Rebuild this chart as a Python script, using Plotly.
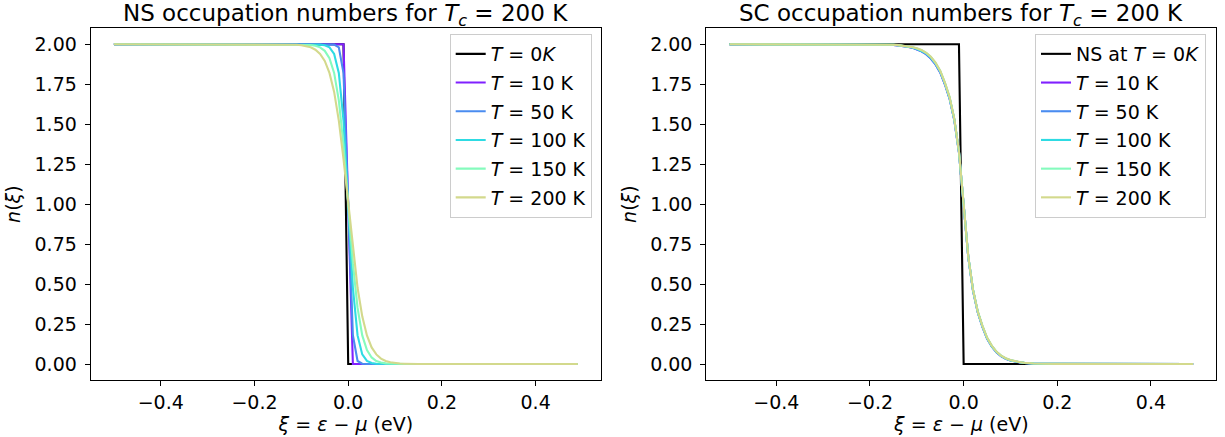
import plotly.graph_objects as go

# ---------------- data ----------------
xi = [-0.50, -0.30, -0.20, -0.15, -0.14, -0.13, -0.12, -0.11, -0.10, -0.09,
      -0.08, -0.07, -0.06, -0.05, -0.04, -0.03, -0.02, -0.01, 0.00, 0.01,
      0.02, 0.03, 0.04, 0.05, 0.06, 0.07, 0.08, 0.09, 0.10, 0.11,
      0.12, 0.13, 0.14, 0.15, 0.20, 0.30, 0.49]

ns_T0 = [2.0, 2.0, 2.0, 2.0, 2.0, 2.0, 2.0, 2.0, 2.0, 2.0,
         2.0, 2.0, 2.0, 2.0, 2.0, 2.0, 2.0, 2.0, 0.0, 0.0,
         0.0, 0.0, 0.0, 0.0, 0.0, 0.0, 0.0, 0.0, 0.0, 0.0,
         0.0, 0.0, 0.0, 0.0, 0.0, 0.0, 0.0]
ns_10 = [2.0, 2.0, 2.0, 2.0, 2.0, 2.0, 2.0, 2.0, 2.0, 2.0,
         2.0, 2.0, 2.0, 2.0, 2.0, 2.0, 2.0, 2.0, 1.0, 0.0,
         0.0, 0.0, 0.0, 0.0, 0.0, 0.0, 0.0, 0.0, 0.0, 0.0,
         0.0, 0.0, 0.0, 0.0, 0.0, 0.0, 0.0]
ns_50 = [2.0, 2.0, 2.0, 2.0, 2.0, 2.0, 2.0, 2.0, 2.0, 2.0,
         2.0, 2.0, 2.0, 2.0, 2.0, 1.998, 1.981, 1.82, 1.0, 0.18,
         0.019, 0.002, 0.0, 0.0, 0.0, 0.0, 0.0, 0.0, 0.0, 0.0,
         0.0, 0.0, 0.0, 0.0, 0.0, 0.0, 0.0]
ns_100 = [2.0, 2.0, 2.0, 2.0, 2.0, 2.0, 2.0, 2.0, 2.0, 2.0,
          2.0, 1.999, 1.998, 1.994, 1.981, 1.940, 1.821, 1.523, 1.0, 0.477,
          0.179, 0.060, 0.019, 0.006, 0.002, 0.001, 0.0, 0.0, 0.0, 0.0,
          0.0, 0.0, 0.0, 0.0, 0.0, 0.0, 0.0]
ns_150 = [2.0, 2.0, 2.0, 2.0, 2.0, 2.0, 2.0, 2.0, 1.999, 1.998,
          1.996, 1.991, 1.981, 1.959, 1.913, 1.821, 1.649, 1.369, 1.0, 0.631,
          0.351, 0.179, 0.087, 0.041, 0.019, 0.009, 0.004, 0.002, 0.001, 0.0,
          0.0, 0.0, 0.0, 0.0, 0.0, 0.0, 0.0]
ns_200 = [2.0, 2.0, 2.0, 2.0, 1.999, 1.999, 1.998, 1.997, 1.994, 1.989,
          1.981, 1.966, 1.940, 1.896, 1.821, 1.702, 1.523, 1.282, 1.0, 0.718,
          0.477, 0.298, 0.179, 0.104, 0.060, 0.034, 0.019, 0.011, 0.006, 0.003,
          0.002, 0.001, 0.001, 0.0, 0.0, 0.0, 0.0]

sc_10 = [2.0, 2.0, 1.999, 1.996, 1.993, 1.990, 1.985, 1.979, 1.969, 1.956,
         1.938, 1.911, 1.874, 1.824, 1.750, 1.660, 1.527, 1.324, 0.996, 0.665,
         0.460, 0.325, 0.234, 0.159, 0.110, 0.074, 0.049, 0.032, 0.022, 0.015,
         0.010, 0.006, 0.004, 0.002, 0.001, 0.0, 0.0]
sc_50 = [2.0, 2.0, 1.999, 1.996, 1.993, 1.990, 1.985, 1.979, 1.969, 1.956,
         1.938, 1.911, 1.874, 1.824, 1.750, 1.660, 1.527, 1.324, 0.996, 0.665,
         0.460, 0.325, 0.234, 0.159, 0.110, 0.074, 0.049, 0.032, 0.022, 0.015,
         0.010, 0.006, 0.004, 0.002, 0.001, 0.0, 0.0]
sc_100 = [2.0, 2.0, 1.999, 1.997, 1.994, 1.991, 1.987, 1.981, 1.972, 1.960,
          1.943, 1.917, 1.880, 1.830, 1.756, 1.665, 1.531, 1.327, 0.998, 0.668,
          0.463, 0.328, 0.237, 0.162, 0.112, 0.076, 0.051, 0.034, 0.023, 0.016,
          0.011, 0.007, 0.004, 0.003, 0.001, 0.0, 0.0]
sc_150 = [2.0, 2.0, 1.999, 1.997, 1.995, 1.992, 1.988, 1.982, 1.974, 1.963,
          1.946, 1.920, 1.883, 1.833, 1.758, 1.668, 1.533, 1.328, 0.999, 0.669,
          0.464, 0.329, 0.239, 0.164, 0.114, 0.077, 0.052, 0.035, 0.024, 0.016,
          0.011, 0.007, 0.005, 0.003, 0.001, 0.0, 0.0]
sc_200 = [2.0, 2.0, 1.999, 1.997, 1.995, 1.992, 1.988, 1.983, 1.975, 1.964,
          1.947, 1.922, 1.885, 1.835, 1.760, 1.670, 1.535, 1.330, 1.0, 0.670,
          0.465, 0.330, 0.240, 0.165, 0.115, 0.078, 0.053, 0.036, 0.025, 0.017,
          0.012, 0.008, 0.005, 0.003, 0.001, 0.0, 0.0]

temps = ["10", "50", "100", "150", "200"]
colors = ["#8020ff", "#4a8cf0", "#2edbe3", "#85fbbd", "#d3d98c"]
ns_series = [ns_10, ns_50, ns_100, ns_150, ns_200]
sc_series = [sc_10, sc_50, sc_100, sc_150, sc_200]

x_ticks = [-0.4, -0.2, 0.0, 0.2, 0.4]
x_ticktext = ["\u22120.4", "\u22120.2", "0.0", "0.2", "0.4"]
y_ticks = [0.0, 0.25, 0.5, 0.75, 1.0, 1.25, 1.5, 1.75, 2.0]
y_ticktext = ["0.00", "0.25", "0.50", "0.75", "1.00", "1.25", "1.50", "1.75", "2.00"]

FONT = "DejaVu Sans"
W, H = 1225, 437
LW = 2.1

fig = go.Figure()

# left panel
fig.add_trace(go.Scatter(x=xi, y=ns_T0, mode="lines", name="<i>T</i> = 0<i>K</i>",
                         line=dict(color="black", width=LW), xaxis="x", yaxis="y",
                         legend="legend", legendgroup="a0"))
for i, (t, c, s) in enumerate(zip(temps, colors, ns_series)):
    fig.add_trace(go.Scatter(x=xi, y=s, mode="lines", name=f"<i>T</i> = {t} K",
                             line=dict(color=c, width=LW), xaxis="x", yaxis="y",
                             legend="legend", legendgroup=f"a{i+1}"))

# right panel
fig.add_trace(go.Scatter(x=xi, y=ns_T0, mode="lines", name="NS at <i>T</i> = 0<i>K</i>",
                         line=dict(color="black", width=LW), xaxis="x2", yaxis="y2",
                         legend="legend2", legendgroup="b0"))
for i, (t, c, s) in enumerate(zip(temps, colors, sc_series)):
    fig.add_trace(go.Scatter(x=xi, y=s, mode="lines", name=f"<i>T</i> = {t} K",
                             line=dict(color=c, width=LW), xaxis="x2", yaxis="y2",
                             legend="legend2", legendgroup=f"b{i+1}"))

def px_x(p):
    return p / W

def px_y(p):
    return (H - p) / H

axis_common = dict(
    showgrid=False, zeroline=False, showline=True, mirror=True,
    linecolor="black", linewidth=1.1, ticks="outside", ticklen=5,
    tickwidth=1.1, tickcolor="black",
    tickfont=dict(family=FONT, size=19, color="black"),
)

xrange = [-0.5495, 0.5395]
yrange = [-0.1, 2.1]

xlabel = "<i>\u03be</i> = <i>\u03b5</i> \u2212 <i>\u03bc</i> (eV)"
ylabel = "<i>n</i>(<i>\u03be</i>)"

legend_common = dict(
    xanchor="right", yanchor="top",
    bgcolor="rgba(255,255,255,0.8)", bordercolor="#cccccc", borderwidth=1,
    font=dict(family=FONT, size=19, color="black"), tracegroupgap=1,
    traceorder="grouped",
)

fig.update_layout(
    width=W, height=H,
    margin=dict(l=0, r=0, t=0, b=0),
    paper_bgcolor="white", plot_bgcolor="white",
    font=dict(family=FONT, size=19, color="black"),
    xaxis=dict(domain=[px_x(90.7), px_x(601.0)], range=xrange, tickvals=x_ticks,
               ticktext=x_ticktext, anchor="y",
               title=dict(text=xlabel, font=dict(family=FONT, size=19), standoff=0),
               **axis_common),
    yaxis=dict(domain=[px_y(380.0), px_y(28.3)], range=yrange, tickvals=y_ticks,
               ticktext=y_ticktext, anchor="x", ticklabelstandoff=4,
               title=dict(text=ylabel, font=dict(family=FONT, size=19), standoff=8),
               **axis_common),
    xaxis2=dict(domain=[px_x(706.3), px_x(1216.3)], range=xrange, tickvals=x_ticks,
                ticktext=x_ticktext, anchor="y2",
                title=dict(text=xlabel, font=dict(family=FONT, size=19), standoff=0),
                **axis_common),
    yaxis2=dict(domain=[px_y(380.0), px_y(28.3)], range=yrange, tickvals=y_ticks,
                ticktext=y_ticktext, anchor="x2", ticklabelstandoff=4,
                title=dict(text=ylabel, font=dict(family=FONT, size=19), standoff=8),
                **axis_common),
    legend=dict(x=px_x(591.7), y=px_y(34), **legend_common),
    legend2=dict(x=px_x(1206), y=px_y(34), **legend_common),
    annotations=[
        dict(text="NS occupation numbers for <i>T<sub>c</sub></i> = 200 K",
             xref="paper", yref="paper", x=(px_x(90.7) + px_x(601.0)) / 2, y=px_y(15),
             xanchor="center", yanchor="middle", showarrow=False,
             font=dict(family=FONT, size=23, color="black")),
        dict(text="SC occupation numbers for <i>T<sub>c</sub></i> = 200 K",
             xref="paper", yref="paper", x=(px_x(706.3) + px_x(1216.3)) / 2, y=px_y(15),
             xanchor="center", yanchor="middle", showarrow=False,
             font=dict(family=FONT, size=23, color="black")),
    ],
)

fig.write_html("out.html", config={"displayModeBar": False},
               post_script="document.body.style.margin='0px';")
